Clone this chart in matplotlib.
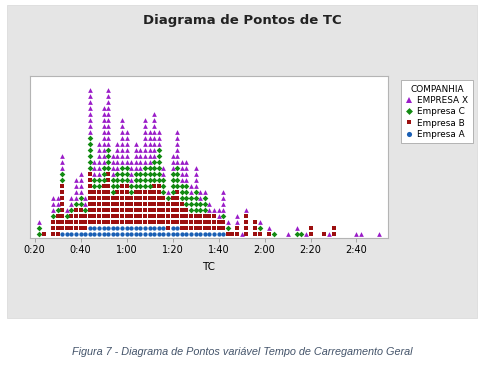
'''
Dot plot of TC (loading time) stacked by company, Minitab look.
'''

import numpy as np
import matplotlib
matplotlib.use('Agg')
import matplotlib.pyplot as plt
from matplotlib.patches import Rectangle
from matplotlib.lines import Line2D

# -- data: one column per 2 s bin (seconds), count per company -- #
tc_seconds = [22, 24, 28, 30, 32, 34, 36, 38, 40, 42, 44, 46, 48, 50, 52, 54, 56, 58, 60, 62,
              64, 66, 68, 70, 72, 74, 76, 78, 80, 82, 84, 86, 88, 90, 92, 94, 96, 98, 100, 102,
              104, 106, 108, 110, 112, 116, 118, 122, 124, 130, 134, 136, 138, 140, 146, 148, 150,
              160, 162, 170]
empresa_a = [0, 0, 0, 0, 1, 1, 1, 1, 1, 1, 2, 2, 2, 2, 2, 2, 2, 2, 2, 2,
             2, 2, 2, 2, 2, 2, 2, 1, 2, 2, 1, 1, 1, 1, 1, 1, 1, 1, 1, 1,
             0, 0, 0, 0, 0, 0, 0, 0, 0, 0, 0, 0, 0, 0, 0, 0, 0,
             0, 0, 0]
empresa_b = [0, 1, 3, 4, 8, 2, 3, 4, 4, 3, 9, 6, 6, 7, 9, 5, 6, 7, 7, 5,
             6, 6, 6, 6, 7, 7, 5, 5, 5, 6, 5, 4, 3, 3, 3, 3, 3, 3, 2, 2,
             1, 1, 2, 0, 4, 3, 1, 1, 0, 0, 0, 0, 0, 2, 1, 0, 2,
             0, 0, 0]
empresa_c = [2, 0, 1, 1, 2, 1, 1, 1, 2, 1, 6, 2, 2, 3, 4, 3, 3, 3, 3, 2,
             3, 3, 4, 4, 4, 6, 3, 1, 4, 4, 3, 4, 3, 4, 2, 3, 0, 0, 0, 1,
             1, 0, 0, 0, 0, 0, 1, 0, 1, 0, 1, 1, 0, 0, 0, 0, 0,
             0, 0, 0]
empresa_x = [1, 0, 3, 2, 3, 1, 2, 4, 4, 2, 8, 3, 6, 10, 10, 4, 5, 8, 6, 4,
             5, 4, 8, 6, 8, 3, 2, 1, 3, 6, 4, 4, 2, 4, 2, 1, 2, 1, 2, 4,
             1, 0, 2, 1, 1, 0, 1, 1, 0, 1, 1, 0, 1, 0, 0, 1, 0,
             1, 1, 1]

tick_secs = [20, 40, 60, 80, 100, 120, 140, 160]
tick_labels = ['0:20', '0:40', '1:00', '1:20', '1:40', '2:00', '2:20', '2:40']

# order = stacking order bottom -> top
groups = [('Empresa A', empresa_a, 'o', '#1a5fb4', 3.1),
          ('Empresa B', empresa_b, 's', '#9c0f0f', 2.8),
          ('Empresa C', empresa_c, 'D', '#128a12', 2.9),
          ('EMPRESA X', empresa_x, '^', '#9a1cc8', 3.4)]

fig = plt.figure(figsize=(4.82, 3.70), dpi=100)
fig.patches.append(Rectangle((7/482, 1-318/370), 470/482, 313/370, transform=fig.transFigure,
                             facecolor='#e5e5e5', edgecolor='#dcdcdc', lw=0.6, zorder=-10))

ax = fig.add_axes([29.5/482, 1-237.5/370, 358.5/482, 161.5/370])
ax.set_facecolor('white')

level = np.zeros(len(tc_seconds), dtype=int)
for name, counts, mk, col, ms in groups:
    xs, ys = [], []
    for i, (s, n) in enumerate(zip(tc_seconds, counts)):
        for k in range(n):
            xs.append(s)
            ys.append(level[i] + k)
        level[i] += n
    ax.plot(xs, ys, linestyle='none', marker=mk, color=col, markersize=ms, markeredgewidth=0)

ax.set_xlim(17.8, 173.7)
ax.set_ylim(-0.58, 26.3)
ax.set_yticks([])
ax.set_xticks(tick_secs)
ax.set_xticklabels(tick_labels, fontsize=7)
ax.tick_params(axis='x', length=3, width=0.6, color='#9a9a9a', pad=2.5)
for sp in ax.spines.values():
    sp.set_color('#b4b4b4')
    sp.set_linewidth(0.8)
ax.set_xlabel('TC', fontsize=7.5, labelpad=5)

fig.text(0.502, 1-20.5/370, 'Diagrama de Pontos de TC', ha='center', va='center',
         fontsize=9.5, fontweight='bold', color='#222222')

handles = [Line2D([], [], linestyle='none', marker=mk, color=col, markersize=ms+0.6,
                  markeredgewidth=0, label=name) for name, _, mk, col, ms in groups[::-1]]
leg = fig.legend(handles=handles, title='COMPANHIA', loc='upper left',
                 bbox_to_anchor=(397/482, 1-76/370), fontsize=6.4, title_fontsize=6.4,
                 frameon=True, fancybox=False, edgecolor='#a8a8a8', framealpha=1,
                 handlelength=0.8, handletextpad=0.5, labelspacing=0.25, borderpad=0.5)
leg.get_frame().set_linewidth(0.6)

fig.text(0.502, 1-352/370, 'Figura 7 - Diagrama de Pontos variável Tempo de Carregamento Geral',
         ha='center', va='center', fontsize=7.8, style='italic', color='#44546a',
         family='Liberation Sans')

plt.savefig('out.png', dpi=100)
plt.close()
